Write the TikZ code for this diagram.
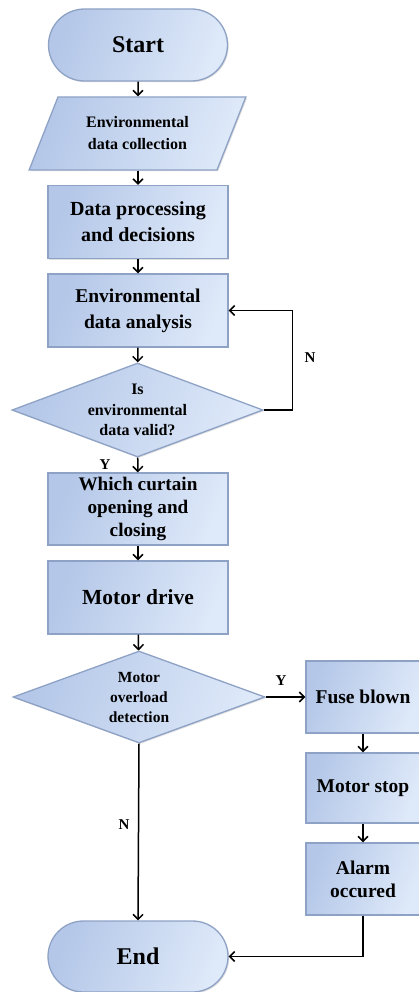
\documentclass[tikz,border=0pt]{standalone}
\usepackage{fontspec}
\setmainfont{Liberation Serif}
\usetikzlibrary{arrows.meta,shapes.geometric,shapes.misc,shadows}

\definecolor{boxlight}{HTML}{DEE9F9}
\definecolor{boxdark}{HTML}{B4C7E8}
\definecolor{boxedge}{HTML}{8EA2C5}

\tikzset{
  base/.style={draw=boxedge, line width=1.3pt, left color=boxdark, right color=boxlight,
    shading angle=70, font=\bfseries, align=center, inner sep=0pt,
    drop shadow={opacity=0.25, shadow xshift=1.2pt, shadow yshift=-1.2pt}},
  term/.style={base, rounded rectangle, minimum width=179pt, minimum height=72pt, font=\bfseries\fontsize{24}{28}\selectfont},
  procbox/.style={base, rectangle, minimum width=180pt, minimum height=73pt},
  sidebox/.style={base, rectangle, minimum width=114pt, minimum height=71pt, font=\bfseries\fontsize{19.5}{23}\selectfont},
  iobox/.style={base, trapezium, trapezium left angle=60.7, trapezium right angle=119.3,
    trapezium stretches=true, minimum width=217pt, minimum height=73pt, font=\bfseries\fontsize{16}{22}\selectfont},
  decision/.style={base, diamond, aspect=2.67, minimum width=251pt, minimum height=94pt, font=\bfseries\fontsize{16}{20.5}\selectfont},
  arr/.style={line width=1.5pt, -{Straight Barb[length=5pt,width=10pt,line width=1.5pt]}},
  yn/.style={font=\bfseries\fontsize{15}{18}\selectfont, inner sep=0pt},
}

\begin{document}
\begin{tikzpicture}[x=1pt, y=-1pt]
  \useasboundingbox (0,0) rectangle (418,992);

  % main column
  \node[term] (start) at (138,45) {Start};
  \node[iobox] (coll) at (137.5,133.5) {Environmental\\data collection};
  \node[procbox, font=\bfseries\fontsize{20}{26}\selectfont] (proc) at (138,222) {Data processing\\and decisions};
  \node[procbox, font=\bfseries\fontsize{19.5}{26}\selectfont] (anal) at (138,310.5) {Environmental\\data analysis};
  \node[decision] (valid) at (137.5,410) {Is\\environmental\\data valid?};
  \node[procbox, minimum height=72pt, font=\bfseries\fontsize{19.2}{23}\selectfont] (which) at (138,509) {Which curtain\\opening and\\closing};
  \node[procbox, font=\bfseries\fontsize{21.5}{26}\selectfont] (drive) at (138,597.5) {Motor drive};
  \node[decision, aspect=2.74, minimum height=92pt, minimum width=252pt, font=\bfseries\fontsize{15.5}{20}\selectfont] (over) at (139,697) {Motor\\overload\\detection};
  \node[term, minimum width=180pt, minimum height=71pt] (end) at (138,956.5) {End};

  % overload branch
  \node[sidebox, minimum height=72pt] (fuse) at (363,697) {Fuse blown};
  \node[sidebox, minimum height=70pt] (stop) at (363,788) {Motor stop};
  \node[sidebox, minimum height=72pt] (alarm) at (363,879) {Alarm\\occured};

  % branch labels
  \node[yn] (ylab1) at (105,465) {Y};
  \node[yn] (nlab1) at (310,358) {N};
  \node[yn] (ylab2) at (281,681) {Y};
  \node[yn] (nlab2) at (124,825) {N};

  % connectors
  \draw[arr] (start) -- (start |- coll.north);
  \draw[arr] (proc.north |- coll.south) -- (proc);
  \draw[arr] (proc) -- (anal);
  \draw[arr] (anal) -- (valid);
  \draw[arr] (valid) -- (which);
  \draw[arr] (valid.east) -- ++(29,0) |- (anal.east);
  \draw[arr] (which) -- (drive);
  \draw[arr] (drive) -- (over);
  \draw[arr] (over.east) -- (fuse.west);
  \draw[arr] (fuse) -- (stop);
  \draw[arr] (stop) -- (alarm);
  \draw[arr] (over.south) -- (end.north);
  \draw[arr] (alarm.south) |- (end.east);
\end{tikzpicture}
\end{document}
